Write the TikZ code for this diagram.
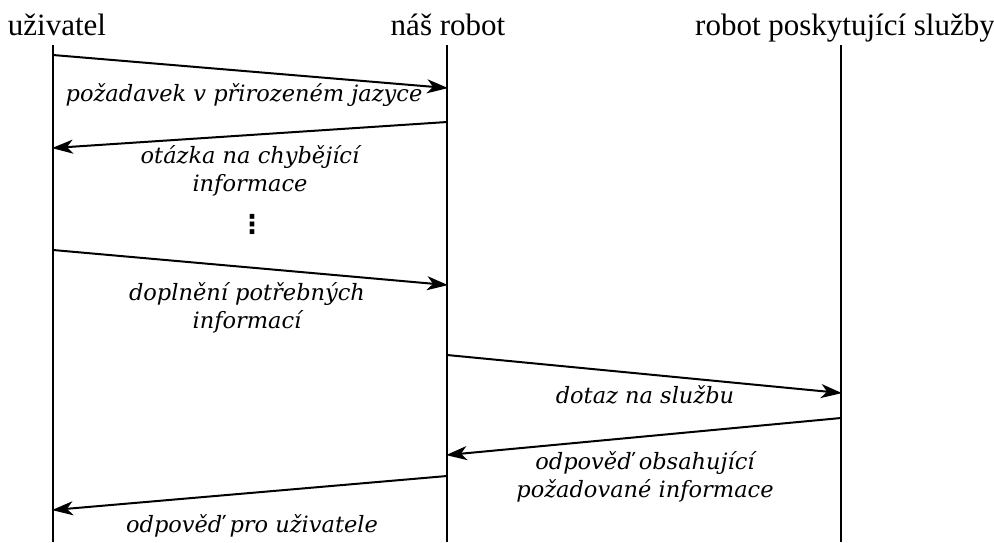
\documentclass[tikz,border=0pt]{standalone}
\usepackage{fontspec}
\setmainfont{Liberation Serif}
\newfontfamily\lblfont{DejaVu Serif}
\newfontfamily\symfont{DejaVu Sans}
\usetikzlibrary{arrows.meta}
\begin{document}
\begin{tikzpicture}[x=1pt,y=-1pt,
  head/.style={font=\fontsize{31}{34}\selectfont, inner sep=0pt, anchor=base},
  life/.style={line width=2pt},
  msg/.style={line width=2pt, -{Stealth[length=21pt,width=14pt,inset=6pt]}, shorten >=-1pt},
  lbl/.style={font=\lblfont\itshape\fontsize{22.5}{28}\selectfont, align=center, inner sep=0pt, anchor=base}]
\useasboundingbox (0,0) rectangle (994,542);
\node[head] (hu) at (57,35) {uživatel};
\node[head] (hr) at (448,35) {náš robot};
\node[head] (hs) at (845,35) {robot poskytující služby};
\coordinate (u0) at (53,45); \coordinate (u1) at (53,542);
\coordinate (r0) at (447,45); \coordinate (r1) at (447,542);
\coordinate (s0) at (841,45); \coordinate (s1) at (841,542);
\draw[life] (u0) -- (u1);
\draw[life] (r0) -- (r1);
\draw[life] (s0) -- (s1);
% messages
\coordinate (m1a) at (53,55);  \coordinate (m1b) at (447,88);
\coordinate (m2a) at (447,122); \coordinate (m2b) at (53,148);
\coordinate (m4a) at (53,250); \coordinate (m4b) at (447,285);
\coordinate (m5a) at (447,355); \coordinate (m5b) at (841,393);
\coordinate (m6a) at (841,418); \coordinate (m6b) at (447,455);
\coordinate (m7a) at (447,476); \coordinate (m7b) at (53,510);
\draw[msg] (m1a) -- (m1b);
\draw[msg] (m2a) -- (m2b);
\draw[msg] (m4a) -- (m4b);
\draw[msg] (m5a) -- (m5b);
\draw[msg] (m6a) -- (m6b);
\draw[msg] (m7a) -- (m7b);
\node[lbl] (l1) at (244,101) {požadavek v přirozeném jazyce};
\node[lbl] (l2) at (250,191) {otázka na chybějící\\informace};
\node[lbl, font=\symfont\bfseries\fontsize{26}{26}\selectfont] (l3) at (252,233) {⋮};
\node[lbl] (l4) at (247,328) {doplnění potřebných\\informací};
\node[lbl] (l5) at (645,403) {dotaz na službu};
\node[lbl] (l6) at (645,497) {odpověď obsahující\\požadované informace};
\node[lbl] (l7) at (252,532) {odpověď pro uživatele};
\end{tikzpicture}
\end{document}
